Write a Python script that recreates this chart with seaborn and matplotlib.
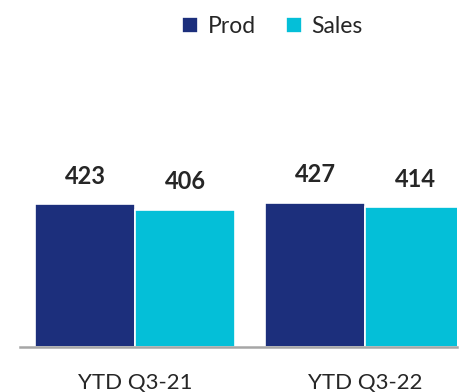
import pandas as pd
import matplotlib.pyplot as plt
import seaborn as sns

periods = ["YTD Q3-21", "YTD Q3-22"]
prod = [423, 427]
sales = [406, 414]
series = ["Prod", "Sales"]
colors = ["#1C2F7C", "#04BFD8"]


def main():
    df = pd.DataFrame({
        "period": periods * 2,
        "value": prod + sales,
        "series": [series[0]] * len(periods) + [series[1]] * len(periods),
    })

    sns.set_style("white")
    plt.rcParams['font.family'] = ['Lato', 'DejaVu Sans']

    fig = plt.figure(figsize=(4.59, 3.92), dpi=100)
    ax = fig.add_axes([20 / 459, 45 / 392, 437 / 459, 287 / 392])

    sns.barplot(data=df, x="period", y="value", hue="series",
                palette=colors, saturation=1, width=0.87,
                edgecolor="white", linewidth=1.2, ax=ax)

    for c in ax.containers:
        ax.bar_label(c, fmt="%d", padding=12, fontsize=17, fontweight="bold")

    ax.set_xlim(-0.5, 1.4)
    ax.set_ylim(0, 850)
    ax.set_xlabel("")
    ax.set_ylabel("")
    ax.set_yticks([])
    ax.tick_params(axis="x", length=0, pad=19, labelsize=16)
    for s in ["top", "right", "left"]:
        ax.spines[s].set_visible(False)
    ax.spines["bottom"].set_color("#A6A6A6")
    ax.spines["bottom"].set_linewidth(1.8)

    ax.legend(loc="center", bbox_to_anchor=(0.593, 0.932),
              bbox_transform=fig.transFigure, ncol=2, frameon=False,
              fontsize=16.5, handlelength=0.7, handleheight=0.7,
              handletextpad=0.4, columnspacing=1.3)

    fig.savefig("out.png", dpi=100)


if __name__ == "__main__":
    main()
